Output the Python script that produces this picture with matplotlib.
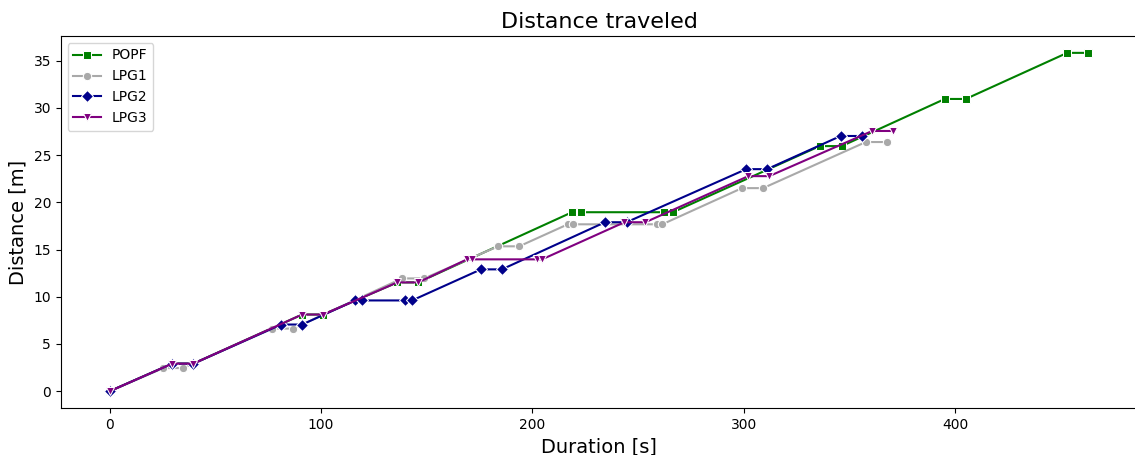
import matplotlib.pyplot as plt

# POPF
popf_t = [0, 29.6, 39.6, 91.1, 101, 136.1, 146, 218.8, 222.8, 262.5, 266.5, 336, 346.4, 395.2, 405.1, 453.1, 463.1]
popf_d = [0, 2.92, 2.92, 8.12, 8.12, 11.52, 11.52, 18.95, 18.95, 18.95, 18.95, 25.95, 25.95, 30.94, 30.94, 35.82, 35.82]

# LPG1
lpg1_t = [0, 25.4, 34.9, 76.9, 86.8, 138.4, 148.8, 183.8, 193.8, 216.8, 219.3, 259, 261.5, 299.2, 309.2, 357.8, 367.7]
lpg1_d = [0, 2.45, 2.45, 6.63, 6.63, 11.94, 11.94, 15.34, 15.34, 17.67, 17.67, 17.67, 17.67, 21.5, 21.5, 26.38, 26.38]

# LPG2
lpg2_t = [0, 29.6, 39.6, 81.2, 91.1, 116.2, 119.5, 139.8, 143.1, 175.7, 185.6, 234.4, 244.6, 301.2, 311.1, 345.9, 355.8]
lpg2_d = [0, 2.92, 2.92, 7.06, 7.06, 9.61, 9.61, 9.61, 9.61, 12.9, 12.9, 17.89, 17.89, 23.51, 23.51, 27.02, 27.02]

# LPG3
lpg3_t = [0, 29.6, 39.6, 91.1, 101, 136.1, 146, 169.1, 171.6, 202.2, 204.6, 243.6, 253.5, 302.2, 312.1, 360.8, 370.7]
lpg3_d = [0, 2.92, 2.92, 8.12, 8.12, 11.52, 11.52, 13.96, 13.96, 13.96, 13.96, 17.89, 17.89, 22.77, 22.77, 27.55, 27.55]

fig, ax = plt.subplots(figsize=(11.35, 4.55), dpi=100)

style = dict(markersize=6, markeredgecolor='white', markeredgewidth=0.75, linewidth=1.5)
ax.plot(popf_t, popf_d, color='green', marker='s', label='POPF', **style)
ax.plot(lpg1_t, lpg1_d, color='darkgray', marker='o', label='LPG1', **style)
ax.plot(lpg2_t, lpg2_d, color='darkblue', marker='D', label='LPG2', **style)
ax.plot(lpg3_t, lpg3_d, color='purple', marker='v', label='LPG3', **style)

ax.set_title('Distance traveled', fontsize=16)
ax.set_xlabel('Duration [s]', fontsize=14)
ax.set_ylabel('Distance [m]', fontsize=14)
ax.legend(loc='upper left')

# right edge of the axes is cut off in the original, like a tight crop
fig.subplots_adjust(left=0.0535, right=1.002, top=0.921, bottom=0.103)
fig.savefig('out.png')
